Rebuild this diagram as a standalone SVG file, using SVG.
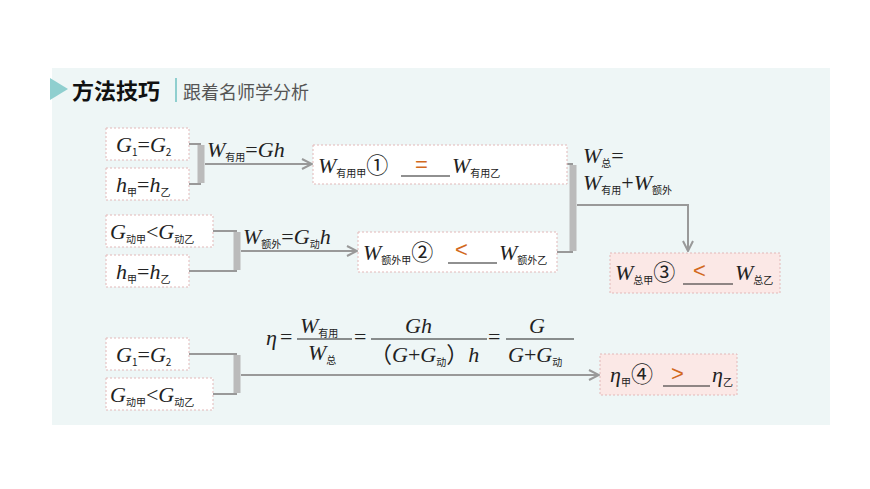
<svg xmlns="http://www.w3.org/2000/svg" width="870" height="489" viewBox="0 0 870 489">
<defs>
<marker id="ar" viewBox="0 0 12 12" refX="11" refY="6" markerWidth="12" markerHeight="12" orient="auto" markerUnits="userSpaceOnUse"><path d="M1,1 L11,6 L1,11" fill="none" stroke="#999" stroke-width="2"/></marker>
<style>
.bx{fill:#fff;stroke:#e2b8b8;stroke-width:1;stroke-dasharray:2,2}
.pk{fill:#fbe8e6;stroke:#e2b8b8;stroke-width:1;stroke-dasharray:2,2}
.t{font-family:'Liberation Serif','Times New Roman','DejaVu Serif','Noto Sans CJK SC',serif;font-size:22px;fill:#222}
.i{font-style:italic}
.s{font-size:10px;font-family:'Noto Sans CJK SC',serif}
.o{fill:#d2691e;font-family:'Liberation Sans',sans-serif;font-size:22px}
.ln{stroke:#999;stroke-width:2;fill:none}
.br{stroke:#bbb;stroke-width:7;fill:none}
.ul{stroke:#222;stroke-width:1.2}
</style>
</defs>
<rect width="870" height="489" fill="#fff"/>
<rect x="52" y="68" width="778" height="357" fill="#eef6f6"/>
<polygon points="50,78 68,89 50,100" fill="#8fcfcf"/>
<text x="72" y="99" font-family="Noto Sans CJK SC,sans-serif" font-size="22" font-weight="bold" fill="#111">方法技巧</text>
<line x1="176" y1="78" x2="176" y2="102" stroke="#8fcfcf" stroke-width="2"/>
<text x="183" y="99" font-family="Noto Sans CJK SC,sans-serif" font-size="18" fill="#555">跟着名师学分析</text>
<g id="connectors">
<path class="ln" d="M189,144 H201 M189,184 H201"/><path class="br" d="M201,145 V183"/>
<path class="ln" d="M205,164 H312" marker-end="url(#ar)"/>
<path class="ln" d="M213,231 H237 M189,271 H237"/><path class="br" d="M237,232 V270"/>
<path class="ln" d="M241,251 H357" marker-end="url(#ar)"/>
<path class="ln" d="M567,164 H573 M557,252 H573"/><path class="br" d="M573,165 V251"/>
<path class="ln" d="M577,205 H688 V251" marker-end="url(#ar)"/>
<path class="ln" d="M189,354 H237 M213,394 H237"/><path class="br" d="M237,355 V393"/>
<path class="ln" d="M241,375 H599" marker-end="url(#ar)"/>
</g>
<g id="n1"><rect class="bx" x="106" y="128" width="83" height="32"/><text class="t" x="116" y="152"><tspan class="i">G</tspan><tspan class="s" dy="4">1</tspan><tspan dy="-4">=</tspan><tspan class="i">G</tspan><tspan class="s" dy="4">2</tspan></text></g>
<g id="n2"><rect class="bx" x="106" y="168" width="83" height="32"/><text class="t" x="116" y="192"><tspan class="i">h</tspan><tspan class="s" dy="4">甲</tspan><tspan dy="-4">=</tspan><tspan class="i">h</tspan><tspan class="s" dy="4">乙</tspan></text></g>
<g id="n3"><rect class="bx" x="106" y="215" width="107" height="32"/><text class="t" x="110" y="239"><tspan class="i">G</tspan><tspan class="s" dy="4">动甲</tspan><tspan dy="-4">&lt;</tspan><tspan class="i">G</tspan><tspan class="s" dy="4">动乙</tspan></text></g>
<g id="n4"><rect class="bx" x="106" y="255" width="83" height="32"/><text class="t" x="116" y="279"><tspan class="i">h</tspan><tspan class="s" dy="4">甲</tspan><tspan dy="-4">=</tspan><tspan class="i">h</tspan><tspan class="s" dy="4">乙</tspan></text></g>
<g id="l1"><text class="t" x="207" y="157"><tspan class="i">W</tspan><tspan class="s" dy="4">有用</tspan><tspan dy="-4">=</tspan><tspan class="i">Gh</tspan></text></g>
<g id="l2"><text class="t" x="243" y="244"><tspan class="i">W</tspan><tspan class="s" dy="4">额外</tspan><tspan dy="-4">=</tspan><tspan class="i">G</tspan><tspan class="s" dy="4">动</tspan><tspan class="i" dy="-4">h</tspan></text></g>
<g id="n5"><rect class="bx" x="313" y="145" width="254" height="39"/><text class="t" x="318" y="173"><tspan class="i">W</tspan><tspan class="s" dy="4">有用甲</tspan><tspan dy="-4">①</tspan></text><line class="ul" x1="401" y1="176" x2="450" y2="176"/><text class="o" x="415" y="172">=</text><text class="t" x="452" y="173"><tspan class="i">W</tspan><tspan class="s" dy="4">有用乙</tspan></text></g>
<g id="n6"><rect class="bx" x="358" y="232" width="199" height="40"/><text class="t" x="363" y="260"><tspan class="i">W</tspan><tspan class="s" dy="4">额外甲</tspan><tspan dy="-4">②</tspan></text><line class="ul" x1="448" y1="263" x2="497" y2="263"/><text class="o" x="455" y="257">&lt;</text><text class="t" x="499" y="260"><tspan class="i">W</tspan><tspan class="s" dy="4">额外乙</tspan></text></g>
<g id="l3"><text class="t" x="583" y="163"><tspan class="i">W</tspan><tspan class="s" dy="4">总</tspan><tspan dy="-4">=</tspan></text><text class="t" x="583" y="190"><tspan class="i">W</tspan><tspan class="s" dy="4">有用</tspan><tspan dy="-4">+</tspan><tspan class="i">W</tspan><tspan class="s" dy="4">额外</tspan></text></g>
<g id="n7"><rect class="pk" x="610" y="253" width="170" height="40"/><text class="t" x="615" y="280"><tspan class="i">W</tspan><tspan class="s" dy="4">总甲</tspan><tspan dy="-4">③</tspan></text><line class="ul" x1="683" y1="284" x2="733" y2="284"/><text class="o" x="693" y="278">&lt;</text><text class="t" x="735" y="280"><tspan class="i">W</tspan><tspan class="s" dy="4">总乙</tspan></text></g>
<g id="n8"><rect class="bx" x="106" y="338" width="83" height="32"/><text class="t" x="116" y="362"><tspan class="i">G</tspan><tspan class="s" dy="4">1</tspan><tspan dy="-4">=</tspan><tspan class="i">G</tspan><tspan class="s" dy="4">2</tspan></text></g>
<g id="n9"><rect class="bx" x="106" y="378" width="107" height="32"/><text class="t" x="110" y="402"><tspan class="i">G</tspan><tspan class="s" dy="4">动甲</tspan><tspan dy="-4">&lt;</tspan><tspan class="i">G</tspan><tspan class="s" dy="4">动乙</tspan></text></g>
<g id="l4">
<text class="t i" x="266" y="345">η</text><text class="t" x="280" y="344">=</text>
<text class="t" x="300" y="333"><tspan class="i">W</tspan><tspan class="s" dy="4">有用</tspan></text>
<line class="ul" x1="297" y1="339" x2="352" y2="339"/>
<text class="t" x="308" y="360"><tspan class="i">W</tspan><tspan class="s" dy="4">总</tspan></text>
<text class="t" x="354" y="344">=</text>
<text class="t i" x="405" y="333">Gh</text>
<line class="ul" x1="371" y1="339" x2="487" y2="339"/>
<text class="t" x="370" y="362">（<tspan class="i">G</tspan>+<tspan class="i">G</tspan><tspan class="s" dy="4">动</tspan><tspan dy="-4">）</tspan><tspan class="i">h</tspan></text>
<text class="t" x="488" y="344">=</text>
<text class="t i" x="529" y="333">G</text>
<line class="ul" x1="506" y1="339" x2="574" y2="339"/>
<text class="t" x="508" y="362"><tspan class="i">G</tspan>+<tspan class="i">G</tspan><tspan class="s" dy="4">动</tspan></text>
</g>
<g id="n10"><rect class="pk" x="600" y="354" width="137" height="41"/><text class="t" x="610" y="382"><tspan class="i">η</tspan><tspan class="s" dy="4">甲</tspan><tspan dy="-4">④</tspan></text><line class="ul" x1="663" y1="386" x2="710" y2="386"/><text class="o" x="671" y="381">&gt;</text><text class="t" x="712" y="382"><tspan class="i">η</tspan><tspan class="s" dy="4">乙</tspan></text></g>
</svg>
